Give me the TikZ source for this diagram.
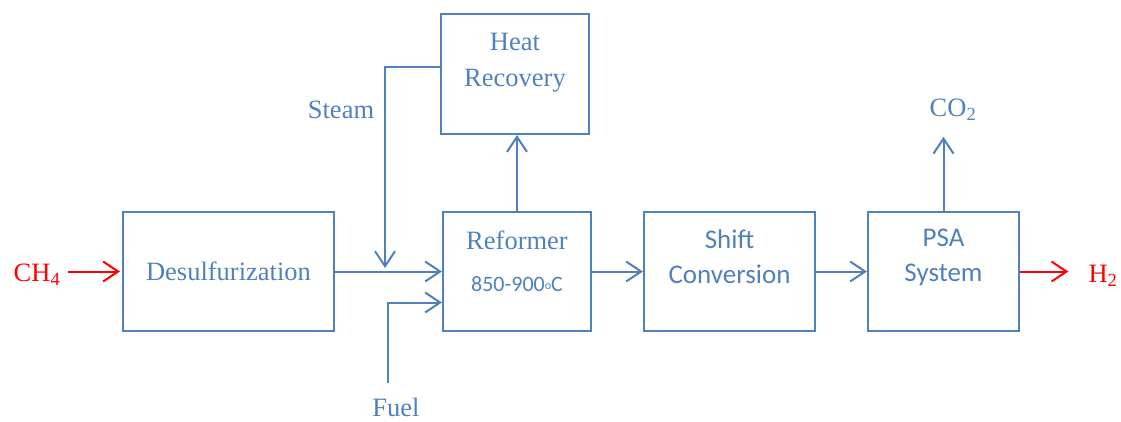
\documentclass[tikz,border=0pt]{standalone}
\usepackage{fontspec}
\setmainfont{Liberation Serif}
\newfontfamily\calfont{Carlito}
\usetikzlibrary{calc,arrows.meta}
\definecolor{flowblue}{RGB}{79,129,189}
\tikzset{
	box/.style={draw=flowblue, line width=2.2pt, inner sep=0pt},
	txt/.style={text=flowblue, inner sep=0pt, align=center, font=\fontsize{26.5}{36}\selectfont},
	ctxt/.style={txt, font=\calfont\fontsize{27}{35}\selectfont},
	redtxt/.style={txt, text=red},
	arr/.style={draw=flowblue, line width=2pt, -{Straight Barb[length=15pt,width=20pt]}},
	redarr/.style={arr, draw=red},
}

\begin{document}
\begin{tikzpicture}[x=1pt,y=-1pt]
			%%%%% START %%%%%
			\def\bh{119}
			\def\ymid{271.5}
			
			\useasboundingbox (0,0) rectangle (1121,421);
			
			% boxes
			\node[box, txt, minimum width=211pt, minimum height=\bh pt] (desulf) at (228.5,\ymid) {Desulfurization};
			\node[box, minimum width=148pt, minimum height=120pt] (heat) at (515,74) {};
			\node[box, minimum width=148pt, minimum height=\bh pt] (reformer) at (517,\ymid) {};
			\node[box, minimum width=171pt, minimum height=\bh pt] (shift) at (729.5,\ymid) {};
			\node[box, minimum width=151pt, minimum height=\bh pt] (psa) at (943.5,\ymid) {};
			
			\node[txt] (heattxt) at (515,63) {Heat\\Recovery};
			\node[txt] (reftxt) at (517,240) {Reformer};
			\node[txt, font=\calfont\fontsize{22}{26}\selectfont] (reftemp) at (517,284) {850-900\raisebox{2pt}{\fontsize{12}{12}\selectfont o}C};
			\node[ctxt] (shifttxt) at (729.5,257) {Shift\\Conversion};
			\node[ctxt] (psatxt) at (943.5,257) {PSA\\System};
			
			% streams
			\node[redtxt] (ch4) at (37,275) {CH\textsubscript{4}};
			\node[redtxt] (h2) at (1103,276) {H\textsubscript{2}};
			\node[txt] (co2) at (953,110) {CO\textsubscript{2}};
			\node[txt] (steam) at (341,110) {Steam};
			\node[txt] (fuel) at (396,407) {Fuel};
			\coordinate (steamend) at (385,268);
			\coordinate (fuelstart) at (388,383);
			
			\draw[redarr, shorten <=8pt, shorten >=2pt] (ch4.east |- desulf.west) -- (desulf.west);
			\draw[arr] (desulf.east) -- (reformer.west);
			\draw[arr] ([yshift=7pt]heat.west) -| (steamend);
			\draw[arr] (fuelstart) |- ([yshift=-31pt]reformer.west);
			\draw[arr] (reformer.north) -- (reformer.north |- heat.south);
			\draw[arr] (reformer.east) -- (reformer.east -| shift.west);
			\draw[arr] (shift.east) -- (shift.east -| psa.west);
			\draw[arr, shorten >=16pt] (psa.north) -- (psa.north |- co2.south);
			\draw[redarr, shorten >=20pt] (psa.east) -- (psa.east -| h2.west);
			%%%%% END %%%%%
\end{tikzpicture}
\end{document}
